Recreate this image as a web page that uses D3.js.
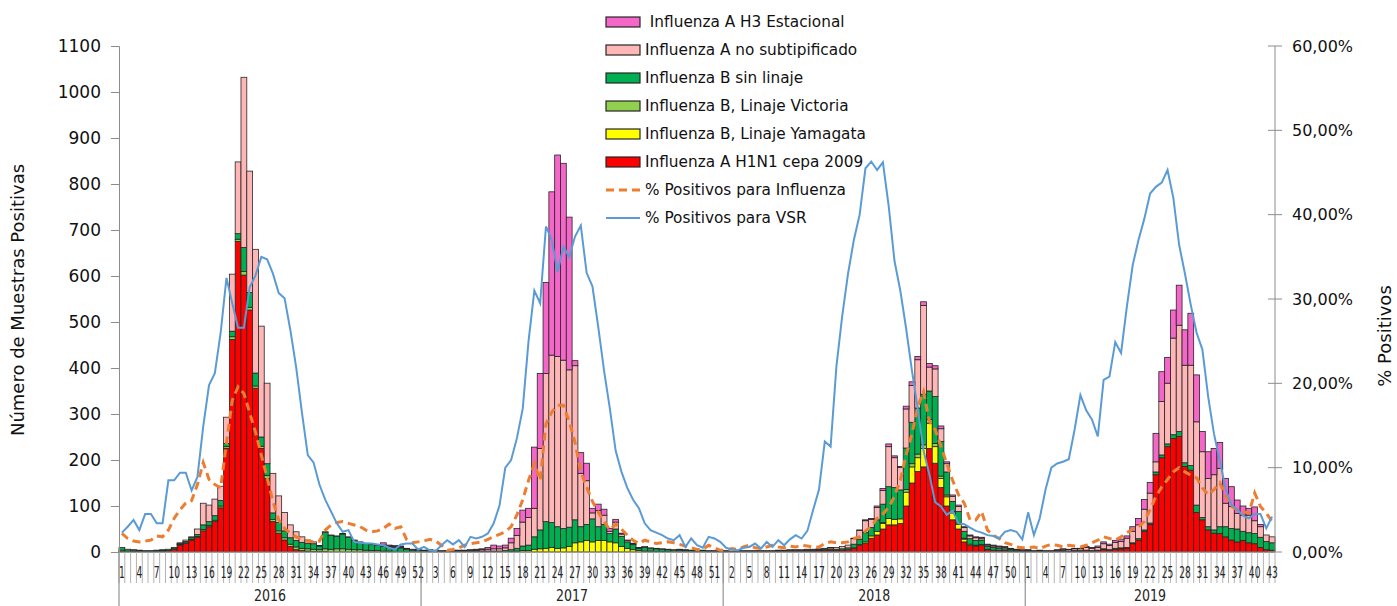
<!DOCTYPE html>
<meta charset="utf-8">
<html>
<head>
    <title>Influenza y VSR por semana epidemiológica</title>
    <script type="text/javascript" src="https://cdn.jsdelivr.net/npm/d3@7/dist/d3.min.js"></script>
    <style type="text/css">
        html, body {
            padding: 0px;
            margin: 0px;
            background: #fff;
        }
        #svg {
            font-family: "DejaVu Sans", Verdana, sans-serif;
        }
    </style>
</head>
<body>
<svg id="svg"></svg>
<script type="text/javascript">
// años y número de semanas de cada uno
var years = [2016, 2017, 2018, 2019]
var weeksPerYear = [52, 52, 52, 43]

// muestras positivas por semana (2016 s1 ... 2019 s43)
var h1n1 = [
  1,0,0,0,0,1,1,2,3,6, 15,19,26,32,46,55,66,96,225,462, 675,602,526,356,225,160,66,41,26,12, 5,3,2,1,1,1,0,0,0,0, 0,0,0,0,0,0,0,0,0,0, 0,0,
  0,0,0,0,0,0,0,0,0,0, 0,0,0,0,0,0,0,0,0,0, 0,0,0,0,0,0,0,0,0,0, 0,0,0,0,0,0,0,0,0,0, 0,0,0,0,0,0,0,0,0,0, 0,0,
  0,0,0,0,0,1,1,1,1,1, 1,2,2,2,2,2,3,3,3,3, 4,5,8,14,19,30,37,50,59,59, 62,100,150,175,185,225,193,140,100,70, 50,22,14,13,14,5,4,3,3,2, 1,0,
  1,1,1,1,1,1,2,1,2,2, 3,2,3,5,4,6,7,8,18,26, 45,60,168,205,229,247,251,186,178,86, 70,48,41,40,33,26,22,25,20,18, 10,5,4
]
var yamagata = [
  0,0,0,0,0,0,0,0,0,0, 0,0,0,0,0,0,0,0,0,0, 0,0,0,0,0,0,0,0,0,0, 0,0,0,0,0,0,0,0,0,0, 0,0,0,0,0,0,0,0,0,0, 0,0,
  0,0,0,0,0,0,0,0,0,0, 0,0,0,0,0,1,2,3,3,6, 7,8,10,8,9,12,20,22,25,22, 25,25,22,20,12,8,5,3,2,2, 1,1,1,0,0,0,0,0,0,0, 0,0,
  0,0,0,0,0,0,0,0,0,0, 0,0,0,0,0,0,0,0,0,0, 0,0,1,2,3,5,8,12,14,12, 10,30,35,30,40,55,36,20,20,15, 10,6,3,2,2,1,0,0,0,0, 0,0,
  0,0,0,0,0,0,0,0,0,0, 0,0,0,0,0,0,0,0,0,0, 0,0,0,0,0,0,0,0,0,0, 0,0,0,0,0,0,0,0,0,0, 0,0,0
]
var victoria = [
  3,2,1,1,1,0,1,1,0,1, 1,1,1,2,3,3,3,4,4,6, 5,8,6,5,5,6,5,5,5,5, 6,5,5,5,4,6,6,7,7,6, 5,5,4,3,3,2,2,0,0,0, 0,0,
  0,0,0,0,0,0,0,0,0,0, 0,0,0,0,0,0,0,0,0,0, 0,0,0,0,0,0,0,0,0,0, 0,0,0,0,0,0,0,0,0,0, 0,0,0,0,0,0,0,0,0,0, 0,0,
  0,0,0,0,0,0,0,0,0,0, 0,0,0,0,0,0,0,0,0,0, 0,0,0,0,0,0,0,2,0,0, 0,6,7,8,8,8,7,5,4,3, 3,2,0,0,0,0,0,0,0,0, 0,0,
  0,0,0,0,0,0,0,0,0,0, 0,0,0,0,0,0,0,0,0,0, 0,0,0,0,0,0,0,0,0,0, 0,0,0,0,0,0,0,0,0,0, 0,0,0
]
var bSinLinaje = [
  6,4,3,2,2,2,2,2,3,3, 2,3,4,4,10,8,10,12,7,12, 12,52,32,28,20,26,14,18,15,14, 14,13,12,12,8,36,30,27,32,26, 20,16,14,13,11,10,9,10,9,6, 4,4,
  3,3,2,2,2,2,2,2,2,2, 2,2,2,2,3,4,6,10,12,27, 41,58,54,47,42,42,50,33,35,50, 30,35,18,30,22,14,11,5,8,6, 6,5,4,4,4,3,3,3,3,2, 2,2,
  2,1,2,2,2,1,1,1,1,2, 2,2,2,2,2,2,2,3,3,3, 3,4,8,12,20,18,25,40,69,69, 63,90,90,100,110,62,102,75,50,22, 25,15,12,10,10,6,6,5,4,3, 3,2,
  2,1,1,1,1,1,1,1,1,1, 1,1,1,2,1,2,2,2,2,3, 3,3,6,6,6,8,11,8,10,16, 5,7,7,15,22,25,28,20,22,22, 22,18,16
]
var aNoSubtip = [
  0,0,1,1,0,0,0,0,0,0, 2,3,2,12,47,36,36,31,57,124, 156,370,264,269,241,175,86,58,40,28, 19,12,7,4,1,1,1,1,1,1, 1,1,1,1,1,3,2,2,2,1, 0,0,
  1,1,1,1,1,1,1,1,2,2, 3,4,5,5,6,15,28,52,60,62, 177,322,364,370,366,342,335,116,95,13, 35,20,5,15,5,3,2,1,2,1, 1,1,1,1,1,1,1,1,1,1, 1,1,
  1,1,1,1,1,1,1,1,1,1, 1,1,1,1,2,2,2,2,3,4, 5,6,12,19,26,18,27,30,87,65, 49,85,80,105,193,52,60,28,18,11, 11,8,6,6,4,3,3,3,3,2, 1,2,
  1,1,1,1,1,2,3,3,4,4, 6,5,6,11,9,13,14,20,25,30, 45,65,22,116,132,210,231,212,218,181, 143,105,120,127,51,48,34,35,38,28, 23,14,13
]
var h3 = [
  0,0,0,0,0,0,0,0,0,0, 0,0,0,0,0,0,0,0,0,0, 0,0,0,0,0,0,0,0,0,0, 0,0,0,0,0,0,0,0,0,0, 0,0,0,0,0,5,2,2,2,1, 2,2,
  0,1,1,0,0,1,1,1,1,2, 2,4,8,6,6,10,15,26,20,133, 163,198,355,438,428,332,11,45,38,10, 14,13,6,6,2,1,1,1,0,0, 0,0,0,0,1,1,0,0,0,0, 0,0,
  0,0,0,0,0,0,0,0,0,0, 0,0,0,0,0,0,0,0,1,0, 0,0,1,1,2,2,3,4,6,4, 2,6,8,7,8,8,7,6,4,3, 3,2,2,2,2,2,2,2,2,1, 1,1,
  1,0,1,0,0,1,1,1,1,1, 2,2,3,4,3,4,5,5,10,14, 21,23,62,65,56,61,87,77,113,102, 44,58,57,56,54,43,29,20,15,30, 5,0,0
]
// porcentajes de positividad (%)
var pctInfluenza = [
  2.2,1.6,1.3,1.2,1.3,1.4,1.9,1.8,2.6,4.0, 5.0,5.8,6.1,8.0,10.6,8.6,8.0,7.6,12.9,18.0, 19.6,18.8,16.5,14.2,11.5,8.8,6.0,3.8,2.8,2.2, 1.8,1.5,1.3,1.2,1.3,2.6,3.2,3.5,3.6,3.4, 3.2,3.0,2.6,2.4,2.5,2.8,3.3,2.8,3.0,1.5, 1.1,1.2,
  1.3,1.5,1.3,0.8,0.2,0.3,0.5,0.8,1.0,1.1, 1.2,1.5,1.8,2.1,2.4,3.0,4.4,6.2,8.5,10.5, 8.5,15.2,16.6,17.4,17.4,15.5,13.0,9.5,7.7,6.0, 4.7,3.6,2.6,3.3,2.7,2.0,1.4,1.0,1.4,1.2, 1.0,1.1,1.2,1.1,0.9,0.7,0.5,0.3,0.3,0.8, 0.5,0.2,
  0.2,0.4,0.3,0.6,0.8,0.5,0.4,0.6,0.8,0.6, 0.5,0.7,0.6,0.8,0.7,0.6,0.6,1.0,1.2,1.1, 1.1,1.2,1.6,1.8,2.5,3.0,4.0,4.5,5.3,6.6, 8.5,11.5,14.0,17.2,19.0,15.5,14.5,12.5,10.5,8.5, 6.8,5.8,3.8,3.8,4.8,2.6,2.0,1.6,1.1,0.9, 0.6,0.5,
  0.5,0.6,0.4,0.7,0.9,0.8,0.6,0.8,0.7,0.6, 0.8,1.1,1.4,1.8,1.6,1.4,1.8,2.3,2.7,3.0, 3.6,5.0,6.6,7.7,8.6,9.5,10.0,9.5,9.1,8.8, 7.6,6.8,7.4,8.2,6.6,5.4,5.0,4.8,4.6,7.0, 5.4,4.6,3.6
]
var pctVsr = [
  2.3,3.0,3.8,2.6,4.5,4.5,3.4,3.4,8.5,8.5, 9.4,9.4,7.3,8.9,14.9,19.8,21.2,26.0,32.5,29.5, 26.6,26.6,31.4,32.8,35.0,34.7,33.0,30.7,30.1,26.3, 21.9,16.5,11.5,10.6,8.0,6.2,4.8,3.4,2.4,2.6, 1.2,1.1,1.0,1.0,0.9,0.8,0.5,0.3,0.9,1.0, 1.0,0.3,
  0.6,0.2,0.1,0.8,1.4,0.9,1.4,0.6,1.8,1.6, 1.8,2.2,3.4,5.5,10.0,10.9,13.5,17.0,25.0,31.0, 29.5,38.6,37.0,33.2,36.2,35.0,37.4,38.7,33.1,31.5, 26.7,21.5,17.0,12.0,9.5,7.6,6.2,5.2,3.4,2.6, 2.3,2.0,1.6,1.4,2.0,0.6,1.6,0.8,0.5,1.8, 1.6,1.2,
  0.5,0.3,0.2,0.5,0.6,1.0,0.4,1.2,0.6,1.4, 0.8,1.5,2.0,1.6,2.5,5.0,7.4,13.1,12.5,22.0, 28.0,33.0,37.0,40.0,45.5,46.3,45.3,46.2,41.0,34.5, 31.0,26.5,21.5,17.0,12.0,9.2,5.9,5.4,4.4,4.9, 3.4,3.3,2.9,2.5,2.3,2.0,1.9,1.6,2.4,2.6, 2.4,1.5,
  4.7,2.0,4.0,7.4,10.0,10.5,10.7,11.0,14.5,18.6, 16.8,15.7,13.7,20.4,20.8,24.9,23.6,29.1,34.0,37.0, 39.5,42.5,43.3,43.8,45.3,42.0,36.4,33.0,29.3,26.0, 24.0,18.4,14.0,10.8,7.5,5.6,5.0,4.3,4.0,4.5, 4.5,2.8,4.2
]

// series de barras, de abajo hacia arriba
var series = [
  { key: "h1n1",       label: "Influenza A H1N1 cepa 2009",    color: "#ff0000", values: h1n1 },
  { key: "yamagata",   label: "Influenza B, Linaje Yamagata",  color: "#ffff00", values: yamagata },
  { key: "victoria",   label: "Influenza B, Linaje Victoria",  color: "#92d050", values: victoria },
  { key: "bSinLinaje", label: "Influenza B sin linaje",        color: "#00b050", values: bSinLinaje },
  { key: "aNoSubtip",  label: "Influenza A no subtipificado",  color: "#ffb6b6", values: aNoSubtip },
  { key: "h3",         label: "\u00a0Influenza A H3 Estacional", color: "#f466c8", values: h3 }
]

var width = 1397
var height = 606
var svg = d3.select('#svg').attr('width', width).attr('height', height)

// etiquetas de semana a partir de los años
var weekLabels = []
weeksPerYear.forEach(function (n) {
  for (var w = 1; w <= n; w++) weekLabels.push(w)
})
var n = weekLabels.length

var rows = d3.range(n).map(function (i) {
  var r = { i: i }
  series.forEach(function (s) { r[s.key] = s.values[i] })
  return r
})

// área del gráfico (no usar "top": es window.top)
var plotLeft = 119, plotRight = 1275, plotTop = 46, plotBottom = 552
var x = d3.scaleBand().domain(d3.range(n)).range([plotLeft, plotRight]).padding(0)
var y = d3.scaleLinear().domain([0, 1100]).range([plotBottom, plotTop])
var y2 = d3.scaleLinear().domain([0, 60]).range([plotBottom, plotTop])

// barras apiladas
var stack = d3.stack().keys(series.map(function (s) { return s.key }))
var layers = stack(rows)

svg.append('g').attr('class', 'bars')
  .selectAll('g')
  .data(layers)
  .enter().append('g')
    .attr('fill', function (d, k) { return series[k].color })
  .selectAll('rect')
  .data(function (d) { return d.filter(function (p) { return p[1] - p[0] > 0 }) })
  .enter().append('rect')
    .attr('x', function (p) { return x(p.data.i) })
    .attr('width', x.bandwidth())
    .attr('y', function (p) { return y(p[1]) })
    .attr('height', function (p) { return y(p[0]) - y(p[1]) })
    .attr('stroke', '#262626')
    .attr('stroke-width', 0.8)

// líneas de porcentaje
var line = function (vals) {
  return d3.line()
    .x(function (v, i) { return x(i) + x.bandwidth() / 2 })
    .y(function (v) { return y2(v) })(vals)
}
svg.append('path')
  .attr('d', line(pctInfluenza))
  .attr('fill', 'none')
  .attr('stroke', '#ed7d31')
  .attr('stroke-width', 3)
  .attr('stroke-dasharray', '8,5')
svg.append('path')
  .attr('d', line(pctVsr))
  .attr('fill', 'none')
  .attr('stroke', '#5b9bd5')
  .attr('stroke-width', 2)

// eje izquierdo
var yAxis = svg.append('g')
  .attr('transform', 'translate(' + plotLeft + ',0)')
  .call(d3.axisLeft(y).tickValues(d3.range(0, 1101, 100)).tickFormat(d3.format('d')).tickSize(8).tickPadding(10))
yAxis.select('.domain').attr('stroke', '#8c8c8c')
yAxis.selectAll('.tick line').attr('stroke', '#8c8c8c')
yAxis.selectAll('text').attr('font-size', 17).attr('fill', '#111')
  .style('font-family', '"DejaVu Sans", Verdana, sans-serif')

// eje derecho con formato de coma decimal
var es = d3.formatLocale({ decimal: ',', thousands: '.', grouping: [3], currency: ['', '€'] })
var fmtPct = es.format('.2f')
var y2Axis = svg.append('g').attr('class', 'y2')
y2Axis.append('line')
  .attr('x1', plotRight).attr('x2', plotRight)
  .attr('y1', plotTop).attr('y2', plotBottom)
  .attr('stroke', '#8c8c8c')
y2Axis.selectAll('.t')
  .data(y2.ticks(6))
  .enter().append('line')
    .attr('x1', plotRight - 7).attr('x2', plotRight + 7)
    .attr('y1', function (d) { return y2(d) }).attr('y2', function (d) { return y2(d) })
    .attr('stroke', '#8c8c8c')
y2Axis.selectAll('text')
  .data(y2.ticks(6))
  .enter().append('text')
    .attr('x', plotRight + 17)
    .attr('y', function (d) { return y2(d) })
    .attr('dy', '0.35em')
    .attr('font-size', 16)
    .attr('fill', '#111')
    .text(function (d) { return fmtPct(d) + '%' })

// eje de categorías: semanas y años
var xAxis = svg.append('g').attr('class', 'xaxis')
xAxis.append('line')
  .attr('x1', plotLeft).attr('x2', plotRight)
  .attr('y1', plotBottom).attr('y2', plotBottom)
  .attr('stroke', '#8c8c8c')
xAxis.selectAll('.wk')
  .data(d3.range(n + 1))
  .enter().append('line')
    .attr('x1', function (i) { return plotLeft + i * x.step() })
    .attr('x2', function (i) { return plotLeft + i * x.step() })
    .attr('y1', plotBottom).attr('y2', 583)
    .attr('stroke', '#b3b3b3')
    .attr('stroke-width', 1)
xAxis.selectAll('.wl')
  .data(d3.range(0, n, 3))
  .enter().append('text')
    .attr('x', function (i) { return x(i) + x.bandwidth() / 2 })
    .attr('y', 578)
    .attr('text-anchor', 'middle')
    .attr('font-size', 15)
    .attr('fill', '#222')
    .attr('textLength', function (i) { return String(weekLabels[i]).length * 5.8 })
    .attr('lengthAdjust', 'spacingAndGlyphs')
    .text(function (i) { return weekLabels[i] })

var yearStart = []
var acc = 0
weeksPerYear.forEach(function (w) { yearStart.push(acc); acc += w })
xAxis.selectAll('.ys')
  .data(yearStart)
  .enter().append('line')
    .attr('x1', function (i) { return plotLeft + i * x.step() })
    .attr('x2', function (i) { return plotLeft + i * x.step() })
    .attr('y1', plotBottom).attr('y2', height)
    .attr('stroke', '#7f7f7f')
xAxis.selectAll('.yl')
  .data(years)
  .enter().append('text')
    .attr('x', function (yr, k) { return plotLeft + (yearStart[k] + weeksPerYear[k] / 2) * x.step() })
    .attr('y', 601)
    .attr('text-anchor', 'middle')
    .attr('font-size', 15)
    .attr('fill', '#222')
    .attr('textLength', 32)
    .attr('lengthAdjust', 'spacingAndGlyphs')
    .text(function (yr) { return yr })

// títulos de ejes
svg.append('text')
  .attr('transform', 'translate(24,300) rotate(-90)')
  .attr('text-anchor', 'middle')
  .attr('font-size', 18)
  .attr('fill', '#111')
  .text('Número de Muestras Positivas')
svg.append('text')
  .attr('transform', 'translate(1391,336) rotate(-90)')
  .attr('text-anchor', 'middle')
  .attr('font-size', 18)
  .attr('fill', '#111')
  .text('% Positivos')

// leyenda
var legendItems = series.slice().reverse().map(function (s) {
  return { label: s.label, color: s.color, type: 'bar' }
}).concat([
  { label: '% Positivos para Influenza', color: '#ed7d31', type: 'dash' },
  { label: '% Positivos para VSR', color: '#5b9bd5', type: 'line' }
])
var legend = svg.append('g').attr('class', 'legend')
var item = legend.selectAll('g')
  .data(legendItems)
  .enter().append('g')
    .attr('transform', function (d, k) { return 'translate(606,' + (22 + k * 28) + ')' })
item.filter(function (d) { return d.type === 'bar' })
  .append('rect')
    .attr('x', 0).attr('y', -5)
    .attr('width', 34).attr('height', 10)
    .attr('fill', function (d) { return d.color })
    .attr('stroke', '#262626')
    .attr('stroke-width', 1.2)
item.filter(function (d) { return d.type !== 'bar' })
  .append('line')
    .attr('x1', 0).attr('x2', 34)
    .attr('stroke', function (d) { return d.color })
    .attr('stroke-width', function (d) { return d.type === 'dash' ? 3 : 2 })
    .attr('stroke-dasharray', function (d) { return d.type === 'dash' ? '8,5' : null })
item.append('text')
  .attr('x', 39)
  .attr('dy', '0.35em')
  .attr('font-size', 15.3)
  .attr('fill', '#111')
  .text(function (d) { return d.label })
</script>
</body>
</html>
